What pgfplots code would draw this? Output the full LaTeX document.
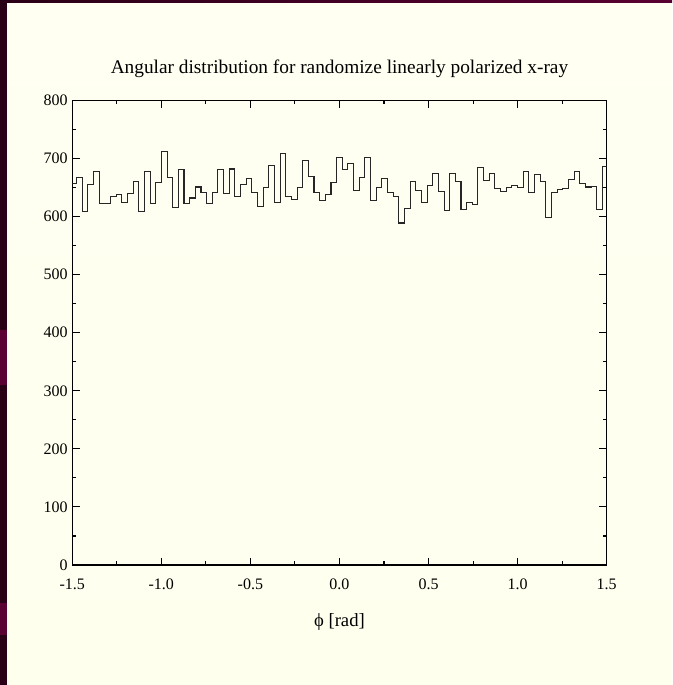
\documentclass[border=0pt]{standalone}
\usepackage{fontspec}
\setmainfont{Liberation Serif}
\usepackage{graphicx}
\usepackage{pgfplots}
\pgfplotsset{compat=1.18}
\usepackage{pgfplotstable}
\definecolor{bgtop}{HTML}{FFFFF2}
\definecolor{bgmid}{HTML}{FFFBD8}
\definecolor{bgbot}{HTML}{FFFFEE}
\definecolor{strip}{HTML}{2A0017}
\definecolor{patch}{HTML}{5A0032}
\pgfplotstableread{
k v
2 657
3 667
4 609
5 655
6 677
7 622
8 623
9 634
10 638
11 625
12 639
13 661
14 609
15 677
16 622
17 658
18 712
19 667
20 616
21 681
22 623
23 632
24 651
25 641
26 623
27 641
28 681
29 639
30 682
31 634
32 655
33 665
34 641
35 618
36 650
37 688
38 624
39 708
40 634
41 630
42 650
43 696
44 669
45 642
46 628
47 638
48 658
49 701
50 681
51 691
52 645
53 667
54 701
55 628
56 650
57 665
58 641
59 635
60 589
61 614
62 660
63 645
64 625
65 654
66 674
67 644
68 611
69 675
70 661
71 612
72 625
73 621
74 684
75 662
76 674
77 648
78 643
79 650
80 653
81 650
82 678
83 641
84 673
85 661
86 599
87 641
88 646
89 648
90 664
91 678
92 657
93 651
94 652
95 612
96 687
97 687
}\histdata
\begin{document}
\begin{tikzpicture}
\path[use as bounding box] (0pt,0pt) rectangle (504pt,513.75pt);
\shade[top color=bgtop, middle color=bgmid, bottom color=bgbot] (0pt,0pt) rectangle (504pt,513.75pt);
\fill[strip] (0pt,0pt) rectangle (5.25pt,513.75pt);
\fill[patch] (0pt,225pt) rectangle (5.25pt,266pt);
\fill[patch] (0pt,37.5pt) rectangle (5.25pt,61.5pt);
\shade[left color=strip, right color=patch] (0pt,511.5pt) rectangle (504pt,513.75pt);
\begin{axis}[
  at={(54.2pt,90pt)}, anchor=south west,
  scale only axis, width=400.8pt, height=348.4pt,
  xmin=-1.5, xmax=1.5, ymin=0, ymax=800,
  xtick={-1.5,-1,-0.5,0,0.5,1,1.5},
  xticklabels={-1.5,-1.0,-0.5,0.0,0.5,1.0,1.5},
  minor x tick num=1,
  ytick={0,100,...,800}, minor y tick num=1,
  tick align=inside, major tick length=5.5pt, minor tick length=3pt,
  axis line style={line width=1pt},
  tick style={black, line width=0.8pt},
  ticklabel style={font=\fontsize{12}{14}\selectfont},
  /pgf/number format/assume math mode=true,
  xticklabel style={anchor=base, yshift=-18.75pt},
  every axis title shift=0pt,
  title={Angular distribution for randomize linearly polarized x-ray},
  title style={at={(axis description cs:0.5,1)}, anchor=base, yshift=20.6pt, font=\fontsize{14.5}{17}\selectfont},
  xlabel={ϕ [rad]},
  xlabel style={at={(axis description cs:0.5,0)}, anchor=base, yshift=-45.75pt, font=\fontsize{14}{16}\selectfont},
]
\addplot[const plot, line width=0.8pt, black!85] table[x expr={-1.5708+0.031733*\thisrow{k}}, y=v] {\histdata};
\end{axis}
\end{tikzpicture}
\end{document}
